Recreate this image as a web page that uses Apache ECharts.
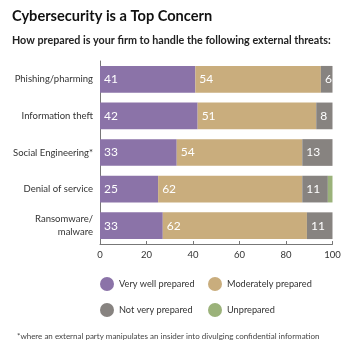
<!DOCTYPE html>
<html>
<head>
<meta charset="utf-8">
<script src="https://cdn.jsdelivr.net/npm/echarts@6/dist/echarts.min.js"></script>
<style>
  html, body { margin: 0; padding: 0; background: #fff; }
  #chart { width: 350px; height: 350px; }
</style>
</head>
<body>
<div id="chart"></div>
<script>
const categories = ['Phishing/pharming', 'Information theft', 'Social Engineering*', 'Denial of service', 'Ransomware/\nmalware']
const seriesNames = ['Very well prepared', 'Moderately prepared', 'Not very prepared', 'Unprepared']

// bar lengths as drawn
const veryWell = [41, 42, 33, 25, 27]
const moderately = [54, 51, 54, 62, 62]
const notVery = [5, 7, 13, 11, 11]
const unprepared = [0, 0, 0, 2, 0]

// numbers printed on the bars
const veryWellLabels = ['41', '42', '33', '25', '33']
const moderatelyLabels = ['54', '51', '54', '62', '62']
const notVeryLabels = ['6', '8', '13', '11', '11']
const unpreparedLabels = ['', '', '', '', '']

const xTicks = { min: 0, max: 100, interval: 20 }
const colors = ['#8b73a8', '#c9ad7d', '#878380', '#9bb27a']
const font = 'Lato, "Noto Sans", sans-serif'

const chart = echarts.init(document.getElementById('chart'), null, { renderer: 'canvas' })

const makeSeries = (name, data, labels, color) => ({
  name, type: 'bar', stack: 'total', data,
  barCategoryGap: '27%',
  itemStyle: { color },
  label: {
    show: true, position: 'insideLeft', distance: 4,
    color: '#fff', fontSize: 12, fontFamily: font,
    formatter: (p) => labels[p.dataIndex],
  },
  emphasis: { disabled: true },
})

const legendAt = (name, left, top) => ({
  data: [name], left, top, icon: 'circle', padding: 0,
  itemWidth: 14, itemHeight: 14, itemGap: 0,
  textStyle: { color: '#333', fontSize: 9.2, fontFamily: font },
  selectedMode: false,
})

chart.setOption({
  animation: false,
  backgroundColor: '#fff',
  title: [
    {
      text: 'Cybersecurity is a Top Concern', left: 12, top: 9, padding: 0,
      textStyle: { fontSize: 14.6, fontWeight: 'bold', color: '#111', fontFamily: font },
    },
    {
      text: 'How prepared is your firm to handle the following external threats:', left: 12, top: 35, padding: 0,
      textStyle: { fontSize: 10.75, fontWeight: 'bold', color: '#222', fontFamily: font },
    },
  ],
  grid: { left: 100, right: 17.5, top: 61, height: 183, outerBoundsMode: 'none' },
  xAxis: {
    type: 'value', min: xTicks.min, max: xTicks.max, interval: xTicks.interval,
    axisLine: { show: true, lineStyle: { color: '#777', width: 1 } },
    axisTick: { show: true, inside: true, length: 3, lineStyle: { color: '#777' } },
    axisLabel: { color: '#333', fontSize: 9.5, fontFamily: font, margin: 6 },
    splitLine: { show: false },
  },
  yAxis: {
    type: 'category', data: categories, inverse: true,
    axisLine: { show: true, lineStyle: { color: '#777', width: 1 } },
    axisTick: { show: false },
    axisLabel: { color: '#333', fontSize: 9.5, fontFamily: font, margin: 7, lineHeight: 13 },
  },
  legend: [
    legendAt(seriesNames[0], 100, 277),
    legendAt(seriesNames[1], 208, 277),
    legendAt(seriesNames[2], 100, 303),
    legendAt(seriesNames[3], 208, 303),
  ],
  graphic: [{
    type: 'text', left: 17, top: 332,
    style: {
      text: '*where an external party manipulates an insider into divulging confidential information',
      fill: '#444', fontSize: 8, fontFamily: font,
    },
  }],
  series: [
    makeSeries(seriesNames[0], veryWell, veryWellLabels, colors[0]),
    makeSeries(seriesNames[1], moderately, moderatelyLabels, colors[1]),
    makeSeries(seriesNames[2], notVery, notVeryLabels, colors[2]),
    makeSeries(seriesNames[3], unprepared, unpreparedLabels, colors[3]),
  ],
})
</script>
</body>
</html>
